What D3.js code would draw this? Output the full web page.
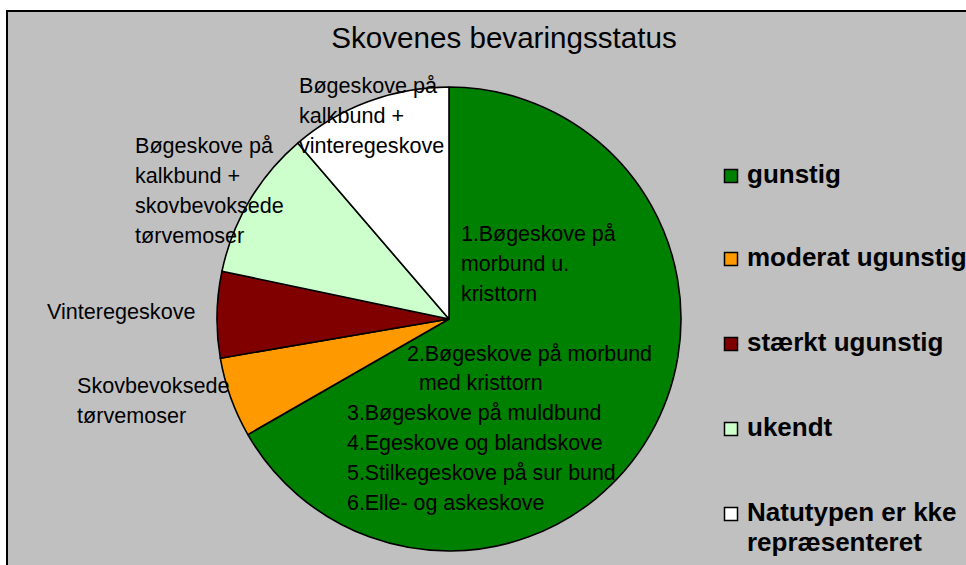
<!DOCTYPE html>
<html>
<head>
<meta charset="utf-8">
<script src="https://cdn.jsdelivr.net/npm/d3@7"></script>
<style>
  html, body { margin: 0; padding: 0; background: #ffffff; }
  svg { display: block; }
  text { font-family: "Liberation Sans", Arial, sans-serif; fill: #000; }
</style>
</head>
<body>
<svg id="chart" width="966" height="565"></svg>
<script>
// ---- data ----
const categories = ["gunstig", "moderat ugunstig", "stærkt ugunstig", "ukendt", "Natutypen er kke repræsenteret"];
const values = [66.7, 5.6, 6.0, 10.4, 11.3];
const colors = ["#008000", "#ff9900", "#800000", "#ccffcc", "#ffffff"];
const legendLines = [["gunstig"], ["moderat ugunstig"], ["stærkt ugunstig"], ["ukendt"], ["Natutypen er kke", "repræsenteret"]];
const title = "Skovenes bevaringsstatus";

// slice annotations (text only)
const insideLabels = [
  { x: 461, y: 241, lines: ["1.Bøgeskove på", "morbund u.", "kristtorn"] },
  { x: 407, y: 361, lines: ["2.Bøgeskove på morbund"] },
  { x: 419, y: 390, lines: ["med kristtorn"] },
  { x: 347, y: 420, lines: ["3.Bøgeskove på muldbund", "4.Egeskove og blandskove", "5.Stilkegeskove på sur bund", "6.Elle- og askeskove"] }
];
const outsideLabels = [
  { x: 299, y: 93, lines: ["Bøgeskove på", "kalkbund +", "vinteregeskove"] },
  { x: 135, y: 153, lines: ["Bøgeskove på", "kalkbund +", "skovbevoksede", "tørvemoser"] },
  { x: 47, y: 319, lines: ["Vinteregeskove"] },
  { x: 77, y: 393, lines: ["Skovbevoksede", "tørvemoser"] }
];

// ---- layout ----
const svg = d3.select("#chart");
const W = 966, H = 565;
const cx = 449, cy = 319, R = 232;

// chart area background with border
svg.append("rect")
  .attr("x", 7).attr("y", 11)
  .attr("width", W + 20).attr("height", H + 20)
  .attr("fill", "#c0c0c0")
  .attr("stroke", "#000").attr("stroke-width", 2);

// title
svg.append("text")
  .attr("x", 504).attr("y", 48)
  .attr("text-anchor", "middle")
  .attr("font-size", 29.6)
  .text(title);

// pie
const pie = d3.pie().sort(null).value(d => d.v).startAngle(0).endAngle(2 * Math.PI);
const arc = d3.arc().innerRadius(0).outerRadius(R);
const data = categories.map((c, i) => ({ c, v: values[i], col: colors[i] }));

const g = svg.append("g").attr("transform", `translate(${cx},${cy})`);
g.selectAll("path")
  .data(pie(data))
  .join("path")
  .attr("d", arc)
  .attr("fill", d => d.data.col)
  .attr("stroke", "#000")
  .attr("stroke-width", 1.6)
  .attr("stroke-linejoin", "round");

// labels
function drawBlock(blocks, size) {
  blocks.forEach(b => {
    b.lines.forEach((ln, i) => {
      svg.append("text")
        .attr("x", b.x).attr("y", b.y + i * 30)
        .attr("font-size", size)
        .text(ln);
    });
  });
}
drawBlock(insideLabels, 21.4);
drawBlock(outsideLabels, 21.6);

// legend
const legendBaselines = [183, 266, 351, 436, 521];
legendLines.forEach((lines, i) => {
  const by = legendBaselines[i];
  svg.append("rect")
    .attr("x", 724.5).attr("y", by - 13.5)
    .attr("width", 13).attr("height", 13)
    .attr("fill", colors[i])
    .attr("stroke", "#000").attr("stroke-width", 1.5);
  lines.forEach((ln, j) => {
    svg.append("text")
      .attr("x", 747).attr("y", by + j * 30)
      .attr("font-size", 26)
      .attr("font-weight", "bold")
      .text(ln);
  });
});
</script>
</body>
</html>
